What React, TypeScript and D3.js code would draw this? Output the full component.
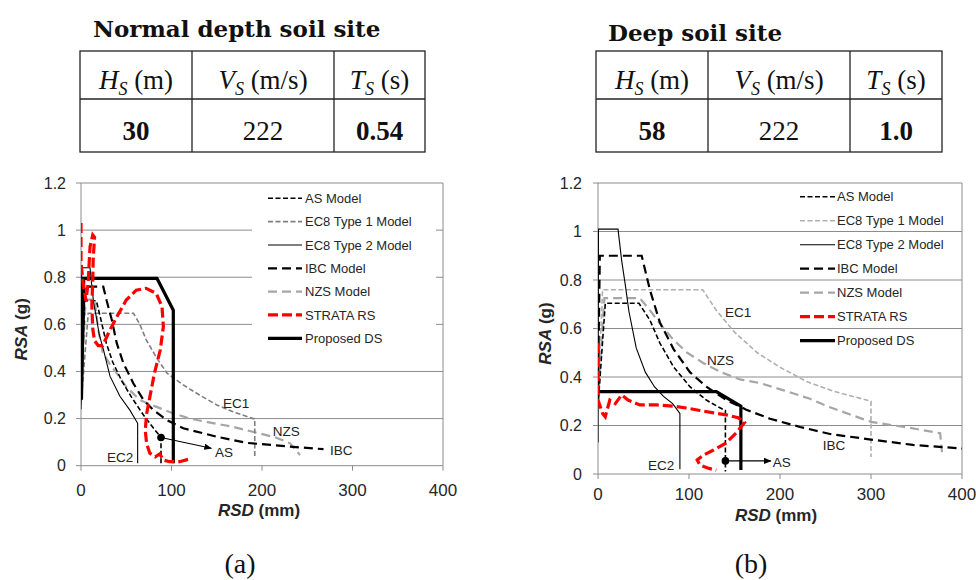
import React from 'react';
import * as d3 from 'd3';

type P = [number, number];

// ---------------- shared axis / legend data ----------------
const xTicks = [0, 100, 200, 300, 400];
const yTicks = [0, 0.2, 0.4, 0.6, 0.8, 1, 1.2];
const legendLabels = ['AS Model', 'EC8 Type 1 Model', 'EC8 Type 2 Model', 'IBC Model', 'NZS Model', 'STRATA RS', 'Proposed DS'];
const tableHeads = [['H', 'S', ' (m)'], ['V', 'S', ' (m/s)'], ['T', 'S', ' (s)']];

// ---------------- (a) Normal depth soil site ----------------
const normalValues = ['30', '222', '0.54'];
const normalAS: P[] = [[0, 0.28], [4, 0.70], [17, 0.70], [22, 0.62], [28, 0.52], [35, 0.44], [45, 0.36], [56, 0.29], [69, 0.215], [80, 0.16], [88.4, 0.12], [88.4, 0.01]];
const normalEC1: P[] = [[0, 0.26], [8, 0.647], [58, 0.647], [65, 0.6], [72, 0.535], [84, 0.455], [95, 0.393], [113, 0.343], [131, 0.3], [150, 0.258], [168, 0.229], [190, 0.2], [192, 0.2], [192, 0.04]];
const normalEC2: P[] = [[0, 0.24], [0.8, 0.84], [10, 0.84], [12, 0.76], [14, 0.69], [17, 0.63], [20, 0.56], [25, 0.49], [32, 0.38], [43, 0.295], [54, 0.236], [62.6, 0.18], [62.6, 0.01]];
const normalIBC: P[] = [[0, 0.3], [4, 0.76], [24.6, 0.76], [28.4, 0.70], [34, 0.62], [39.5, 0.52], [46.8, 0.435], [57.8, 0.35], [69, 0.279], [80, 0.236], [94.7, 0.194], [102, 0.18], [113, 0.159], [150, 0.123], [183, 0.097], [231, 0.081], [268, 0.07]];
const normalNZS: P[] = [[0, 0.28], [5, 0.705], [15, 0.705], [19, 0.58], [24, 0.48], [32, 0.43], [40, 0.39], [50, 0.335], [65, 0.279], [80, 0.255], [100, 0.225], [120, 0.2], [140, 0.185], [168, 0.165], [194, 0.14], [215, 0.12], [231, 0.095], [242, 0.045]];
const normalSTRATA: P[] = [[0, 1.03], [0, 0.86], [2.5, 0.77], [5.5, 0.7], [8, 0.78], [9, 0.86], [10, 0.93], [13, 0.98], [15, 0.97], [13.5, 0.88], [13, 0.79], [12, 0.68], [13, 0.58], [15, 0.53], [19, 0.51], [24, 0.51], [32, 0.576], [40, 0.635], [50, 0.703], [61, 0.745], [72, 0.753], [83, 0.732], [89.5, 0.675], [91, 0.59], [87.5, 0.49], [81, 0.39], [76, 0.29], [72.5, 0.22], [71, 0.15], [72.5, 0.095], [76, 0.053], [82, 0.038], [87, 0.05], [91, 0.024], [98, 0.017], [109, 0.017], [122, 0.031]];
const normalDS: P[] = [[0.5, 0.28], [3, 0.795], [84, 0.795], [102, 0.66], [102, 0.01]];
const normalDot: P = [88.4, 0.12];
const normalArrowEnd: P = [144, 0.074];
const normalNotes = [
  { t: 'EC2', x: 28.7, y: 0.016 },
  { t: 'EC1', x: 157, y: 0.245 },
  { t: 'NZS', x: 212, y: 0.126 },
  { t: 'IBC', x: 275, y: 0.045 },
  { t: 'AS', x: 148, y: 0.037 },
];

// ---------------- (b) Deep soil site ----------------
const deepValues = ['58', '222', '1.0'];
const deepAS: P[] = [[0, 0.28], [8, 0.704], [45, 0.704], [57, 0.635], [68, 0.54], [83, 0.442], [101, 0.36], [119, 0.305], [133, 0.275], [140, 0.262], [140, 0.01]];
const deepEC1: P[] = [[0, 0.3], [5, 0.76], [115, 0.76], [130, 0.675], [150, 0.585], [175, 0.5], [200, 0.44], [230, 0.38], [260, 0.34], [300, 0.3], [300, 0.07]];
const deepEC2: P[] = [[0, 0.13], [0.5, 1.01], [22, 1.01], [26, 0.88], [30, 0.78], [34, 0.67], [42, 0.52], [52, 0.42], [62, 0.36], [72, 0.32], [82, 0.29], [90, 0.25], [90, 0.02]];
const deepIBC: P[] = [[0, 0.36], [2, 0.9], [48, 0.9], [57, 0.76], [68, 0.625], [83, 0.515], [101, 0.42], [119, 0.36], [141, 0.305], [163, 0.265], [189, 0.228], [222, 0.194], [255, 0.165], [300, 0.142], [346, 0.12], [400, 0.105]];
const deepNZS: P[] = [[0, 0.3], [7, 0.725], [46, 0.725], [57, 0.676], [68, 0.62], [83, 0.553], [98, 0.5], [116, 0.457], [135, 0.42], [156, 0.39], [178, 0.375], [204, 0.345], [233, 0.31], [255, 0.275], [300, 0.215], [343, 0.19], [376, 0.168], [378, 0.09]];
const deepSTRATA: P[] = [[0.3, 0.54], [0, 0.305], [5, 0.25], [8, 0.236], [13, 0.305], [19, 0.29], [26, 0.326], [33, 0.305], [46, 0.285], [64, 0.285], [83, 0.28], [97, 0.272], [112, 0.262], [127, 0.252], [141, 0.244], [154, 0.232], [161, 0.212], [152, 0.17], [140, 0.126], [127, 0.099], [116, 0.078], [109, 0.058], [112, 0.037], [122, 0.023], [130, 0.016]];
const deepDS: P[] = [[0, 0.34], [130, 0.34], [157, 0.28], [157, 0.017]];
const deepDot: P = [140, 0.054];
const deepArrowEnd: P = [190, 0.054];
const deepNotes = [
  { t: 'EC1', x: 139.6, y: 0.647 },
  { t: 'NZS', x: 119.8, y: 0.449 },
  { t: 'IBC', x: 247, y: 0.099 },
  { t: 'AS', x: 192, y: 0.029 },
  { t: 'EC2', x: 55, y: 0.016 },
];

const SANS = "'Liberation Sans', Arial, Helvetica, sans-serif";
const SERIF = "'Liberation Serif', 'Times New Roman', serif";
const SERIF_WIDE = "'DejaVu Serif', serif";

type Style = { stroke: string; width: number; dash?: string };

function makeStyles(ec1Gray: string): Style[] {
  return [
    { stroke: '#000', width: 1.6, dash: '5,2.5' },
    { stroke: ec1Gray, width: 1.6, dash: '5,2.5' },
    { stroke: '#000', width: 1.1 },
    { stroke: '#000', width: 2.2, dash: '9,5' },
    { stroke: '#a6a6a6', width: 2.2, dash: '9,5' },
    { stroke: '#ff0000', width: 3.2, dash: '10,4' },
    { stroke: '#000', width: 3.2 },
  ];
}

type ChartCfg = {
  id: string;
  left: number; right: number; top: number; bottom: number;
  series: P[][];
  styles: Style[];
  dot: P; arrowEnd: P;
  notes: { t: string; x: number; y: number }[];
  legend: { bg: boolean; bx0: number; bx1: number; by1: number; sx0: number; sx1: number; tx: number; y0: number; dy: number };
  yLabelX: number; xLabelY: number; yTitleX: number; xTitleY: number; xTitleX: number;
};

function Chart({ c }: { c: ChartCfg }) {
  const x = d3.scaleLinear().domain([0, 400]).range([c.left, c.right]);
  const y = d3.scaleLinear().domain([0, 1.2]).range([c.bottom, c.top]);
  const line = d3.line<P>().x(d => x(d[0])).y(d => y(d[1]));
  const grid = '#8c8c8c';
  const drawOrder = [4, 1, 3, 0, 2, 6, 5];
  return (
    <g>
      <defs>
        <clipPath id={`clip-${c.id}`}>
          <rect x={c.left} y={c.top - 2} width={c.right - c.left} height={c.bottom - c.top + 3} />
        </clipPath>
        <marker id={`arr-${c.id}`} viewBox="0 0 10 10" refX="9" refY="5" markerWidth="7" markerHeight="7" orient="auto">
          <path d="M0,1 L10,5 L0,9 z" fill="#000" />
        </marker>
      </defs>
      {/* grid */}
      {yTicks.filter(v => v > 0).map(v => (
        <line key={v} x1={c.left} x2={c.right} y1={y(v)} y2={y(v)} stroke={grid} strokeWidth={1} />
      ))}
      <line x1={c.right} x2={c.right} y1={c.top} y2={c.bottom} stroke={grid} strokeWidth={1} />
      {c.legend.bg && (
        <rect x={c.legend.bx0} y={c.top + 1} width={c.legend.bx1 - c.legend.bx0} height={c.legend.by1 - c.top - 1} fill="#fff" />
      )}
      {/* axes */}
      <line x1={c.left} x2={c.left} y1={c.top} y2={c.bottom} stroke={grid} strokeWidth={1} />
      <line x1={c.left} x2={c.right} y1={c.bottom} y2={c.bottom} stroke={grid} strokeWidth={1} />
      {yTicks.map(v => (
        <g key={v}>
          <line x1={c.left - 5} x2={c.left} y1={y(v)} y2={y(v)} stroke={grid} />
          <text x={c.yLabelX} y={y(v)} dy="0.36em" textAnchor="end" fontFamily={SANS} fontSize={16} fill="#262626">{String(+v.toFixed(1))}</text>
        </g>
      ))}
      {xTicks.map(v => (
        <g key={v}>
          <line x1={x(v)} x2={x(v)} y1={c.bottom} y2={c.bottom + 5} stroke={grid} />
          <text x={x(v)} y={c.xLabelY} textAnchor="middle" fontFamily={SANS} fontSize={17} fill="#262626">{v}</text>
        </g>
      ))}
      <text transform={`translate(${c.yTitleX},${(c.top + c.bottom) / 2 + 5}) rotate(-90)`} textAnchor="middle" fontFamily={SANS} fontSize={17} fontWeight="bold" fill="#262626">
        <tspan fontStyle="italic">RSA</tspan> (g)
      </text>
      <text x={c.xTitleX} y={c.xTitleY} textAnchor="middle" fontFamily={SANS} fontSize={17} fontWeight="bold" fill="#262626">
        <tspan fontStyle="italic">RSD</tspan> (mm)
      </text>
      {/* series */}
      <g clipPath={`url(#clip-${c.id})`}>
        {drawOrder.map(i => (
          <path key={i} d={line(c.series[i]) || ''} fill="none" stroke={c.styles[i].stroke} strokeWidth={c.styles[i].width}
            strokeDasharray={c.styles[i].dash} strokeLinejoin="miter" />
        ))}
      </g>
      {/* annotations */}
      <circle cx={x(c.dot[0])} cy={y(c.dot[1])} r={3.8} fill="#000" />
      <line x1={x(c.dot[0])} y1={y(c.dot[1])} x2={x(c.arrowEnd[0])} y2={y(c.arrowEnd[1])} stroke="#000" strokeWidth={1.1} markerEnd={`url(#arr-${c.id})`} />
      {c.notes.map(n => (
        <text key={n.t} x={x(n.x)} y={y(n.y)} fontFamily={SANS} fontSize={13.5} fill="#222">{n.t}</text>
      ))}
      {/* legend */}
      {legendLabels.map((lab, i) => {
        const ly = c.legend.y0 + i * c.legend.dy;
        const s = c.styles[i];
        return (
          <g key={lab}>
            <line x1={c.legend.sx0} x2={c.legend.sx1} y1={ly} y2={ly} stroke={s.stroke} strokeWidth={s.width} strokeDasharray={s.dash} />
            <text x={c.legend.tx} y={ly} dy="0.36em" fontFamily={SANS} fontSize={13} fill="#262626">{lab}</text>
          </g>
        );
      })}
    </g>
  );
}

function SiteTable({ title, tx, ty, x0, x1, cols, values, boldIdx }: {
  title: string; tx: number; ty: number; x0: number; x1: number; cols: number[]; values: string[]; boldIdx: number[];
}) {
  const yTop = 51, yMid = 99, yBot = 152;
  const edges = [x0, ...cols, x1];
  const centers = [0, 1, 2].map(i => (edges[i] + edges[i + 1]) / 2);
  return (
    <g>
      <text x={tx} y={ty} fontFamily={SERIF_WIDE} fontWeight="bold" fontSize={23} fill="#111">{title}</text>
      <rect x={x0} y={yTop} width={x1 - x0} height={yBot - yTop} fill="none" stroke="#222" strokeWidth={1.3} />
      <line x1={x0} x2={x1} y1={yMid} y2={yMid} stroke="#222" strokeWidth={1.3} />
      {cols.map(cx => <line key={cx} x1={cx} x2={cx} y1={yTop} y2={yBot} stroke="#222" strokeWidth={1.3} />)}
      {tableHeads.map((h, i) => (
        <text key={i} x={centers[i]} y={89} textAnchor="middle" fontFamily={SERIF} fontSize={27} fill="#111">
          <tspan fontStyle="italic">{h[0]}</tspan>
          <tspan fontStyle="italic" fontSize={18} dy={6}>{h[1]}</tspan>
          <tspan dy={-6}>{h[2]}</tspan>
        </text>
      ))}
      {values.map((v, i) => (
        <text key={i} x={centers[i]} y={140} textAnchor="middle" fontFamily={SERIF} fontSize={27}
          fontWeight={boldIdx.includes(i) ? 'bold' : 'normal'} fill="#111">{v}</text>
      ))}
    </g>
  );
}

export default function App() {
  const left: ChartCfg = {
    id: 'a', left: 81, right: 443, top: 183, bottom: 465.7,
    series: [normalAS, normalEC1, normalEC2, normalIBC, normalNZS, normalSTRATA, normalDS],
    styles: makeStyles('#7f7f7f'),
    dot: normalDot, arrowEnd: normalArrowEnd, notes: normalNotes,
    legend: { bg: true, bx0: 252, bx1: 436, by1: 370, sx0: 268, sx1: 302, tx: 305, y0: 198.3, dy: 23.33 },
    yLabelX: 66, xLabelY: 496, yTitleX: 27, xTitleY: 516, xTitleX: 259,
  };
  const right: ChartCfg = {
    id: 'b', left: 598, right: 962, top: 183, bottom: 474,
    series: [deepAS, deepEC1, deepEC2, deepIBC, deepNZS, deepSTRATA, deepDS],
    styles: makeStyles('#b0b0b0'),
    dot: deepDot, arrowEnd: deepArrowEnd, notes: deepNotes,
    legend: { bg: false, bx0: 0, bx1: 0, by1: 0, sx0: 800, sx1: 835, tx: 837, y0: 196.7, dy: 24 },
    yLabelX: 582, xLabelY: 500, yTitleX: 551, xTitleY: 521, xTitleX: 776,
  };
  return (
    <svg width={976} height={580} viewBox="0 0 976 580" style={{ position: 'absolute', left: 0, top: 0, background: '#fff' }}>
      <rect width={976} height={580} fill="#fff" />
      <SiteTable title="Normal depth soil site" tx={93} ty={37} x0={80} x1={425} cols={[192, 334]} values={normalValues} boldIdx={[0, 2]} />
      <SiteTable title="Deep soil site" tx={608} ty={41} x0={596} x1={942} cols={[708, 850]} values={deepValues} boldIdx={[0, 2]} />
      <Chart c={left} />
      <Chart c={right} />
      <text x={240} y={573} textAnchor="middle" fontFamily={SERIF} fontSize={28} fill="#111">(a)</text>
      <text x={751} y={573} textAnchor="middle" fontFamily={SERIF} fontSize={28} fill="#111">(b)</text>
    </svg>
  );
}
